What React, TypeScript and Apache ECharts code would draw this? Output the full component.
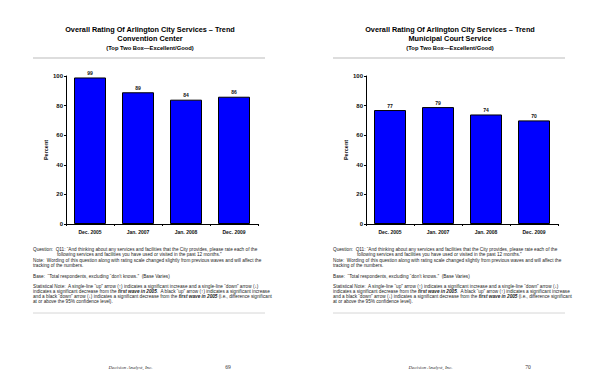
import React, { useEffect, useRef } from "react";
import * as echarts from "echarts";

const categories = ["Dec. 2005", "Jan. 2007", "Jan. 2008", "Dec. 2009"];
const conventionValues = [99, 89, 84, 86];
const courtValues = [77, 79, 74, 70];
const yTicks = [0, 20, 40, 60, 80, 100];
const titleLine1 = "Overall Rating Of Arlington City Services \u2013 Trend";
const subtitles = ["Convention Center", "Municipal Court Service"];
const titleLine3 = "(Top Two Box\u2014Excellent/Good)";
const pageNumbers = ["69", "70"];
const footer = "Decision Analyst, Inc.";

const FONT = "Arial, 'Liberation Sans', Helvetica, sans-serif";

function pageGraphics(ox: number, sub: string, page: string): any[] {
  const fs = 4.7;
  const t = (x: number, y: number, text: string, extra: any = {}) => ({
    type: "text",
    x: ox + x,
    y,
    style: { text, fontSize: fs, fontFamily: FONT, fill: "#222", textVerticalAlign: "middle", ...extra },
  });
  const rich = { b: { fontSize: fs, fontFamily: FONT, fontWeight: "bold", fontStyle: "italic", fill: "#222" } };
  return [
    { type: "text", x: ox + 150, y: 29, style: { text: titleLine1, fontSize: 7.3, fontWeight: "bold", fontFamily: FONT, fill: "#000", textAlign: "center", textVerticalAlign: "middle" } },
    { type: "text", x: ox + 150, y: 38.5, style: { text: sub, fontSize: 7.3, fontWeight: "bold", fontFamily: FONT, fill: "#000", textAlign: "center", textVerticalAlign: "middle" } },
    { type: "text", x: ox + 150, y: 48, style: { text: titleLine3, fontSize: 5.8, fontWeight: "bold", fontFamily: FONT, fill: "#000", textAlign: "center", textVerticalAlign: "middle" } },
    { type: "line", shape: { x1: ox + 33, y1: 58, x2: ox + 265, y2: 58 }, style: { stroke: "#aaa", lineWidth: 0.8 } },
    t(33, 249.3, "Question:  Q11: \u201cAnd thinking about any services and facilities that the City provides, please rate each of the"),
    t(57, 254.3, "following services and facilities you have used or visited in the past 12 months.\u201d"),
    t(33, 260.7, "Note:  Wording of this question along with rating scale changed slightly from previous waves and will affect the"),
    t(33, 265.7, "tracking of the numbers."),
    t(33, 276, "Base:  \u201cTotal respondents, excluding \u201cdon\u2019t knows.\u201d  (Base Varies)"),
    t(33, 286.7, "Statistical Note:  A single-line \u201cup\u201d arrow (\u2191) indicates a significant increase and a single-line \u201cdown\u201d arrow (\u2193)"),
    t(33, 291.7, "indicates a significant decrease from the {b|first wave in 2005}.  A black \u201cup\u201d arrow (\u2191) indicates a significant increase", { rich }),
    t(33, 296.7, "and a black \u201cdown\u201d arrow (\u2193) indicates a significant decrease from the {b|first wave in 2005} (i.e., difference significant", { rich }),
    t(33, 301.7, "at or above the 95% confidence level)."),
    { type: "line", shape: { x1: ox + 33, y1: 313, x2: ox + 265, y2: 313 }, style: { stroke: "#ccc", lineWidth: 0.8 } },
    { type: "text", x: ox + 130.5, y: 367, style: { text: footer, fontSize: 5, fontStyle: "italic", fontFamily: "'Liberation Serif', 'DejaVu Serif', serif", fill: "#333", textAlign: "center", textVerticalAlign: "middle" } },
    { type: "text", x: ox + 228, y: 367, style: { text: page, fontSize: 5.5, fontFamily: "'Liberation Serif', 'DejaVu Serif', serif", fill: "#333", textAlign: "center", textVerticalAlign: "middle" } },
  ];
}

export default function App() {
  const ref = useRef<HTMLDivElement>(null);
  useEffect(() => {
    if (!ref.current) return;
    const chart = echarts.init(ref.current, null, { renderer: "svg" });
    const xAxis = (gi: number) => ({
      type: "category",
      gridIndex: gi,
      data: categories,
      axisLine: { lineStyle: { color: "#000", width: 1 } },
      axisTick: { show: true, length: 2, lineStyle: { color: "#000" } },
      axisLabel: { fontSize: 5, fontWeight: "bold", fontFamily: FONT, color: "#111", margin: 5 },
    });
    const yAxis = (gi: number) => ({
      type: "value",
      gridIndex: gi,
      min: yTicks[0],
      max: yTicks[yTicks.length - 1],
      interval: yTicks[1] - yTicks[0],
      name: "Percent",
      nameLocation: "middle",
      nameGap: 17,
      nameTextStyle: { fontSize: 5.5, fontWeight: "bold", fontFamily: FONT, color: "#111" },
      splitLine: { show: false },
      axisLine: { show: true, lineStyle: { color: "#000", width: 1 } },
      axisTick: { show: true, length: 2, lineStyle: { color: "#000" } },
      axisLabel: { fontSize: 6, fontWeight: "bold", fontFamily: FONT, color: "#111", margin: 3 },
    });
    const series = (gi: number, data: number[]) => ({
      type: "bar",
      xAxisIndex: gi,
      yAxisIndex: gi,
      data,
      barWidth: 32,
      itemStyle: { color: "#0000FF", borderColor: "#000", borderWidth: 1 },
      label: { show: true, position: "top", distance: 2, fontSize: 5, fontWeight: "bold", fontFamily: FONT, color: "#111" },
    });
    chart.setOption({
      animation: false,
      backgroundColor: "#fff",
      grid: [
        { left: 66, top: 76, width: 192, height: 148 },
        { left: 366, top: 76, width: 192, height: 148 },
      ],
      xAxis: [xAxis(0), xAxis(1)],
      yAxis: [yAxis(0), yAxis(1)],
      series: [series(0, conventionValues), series(1, courtValues)],
      graphic: [...pageGraphics(0, subtitles[0], pageNumbers[0]), ...pageGraphics(300, subtitles[1], pageNumbers[1])],
    });
    return () => chart.dispose();
  }, []);
  return <div ref={ref} style={{ position: "fixed", left: 0, top: 0, width: 600, height: 388 }} />;
}
